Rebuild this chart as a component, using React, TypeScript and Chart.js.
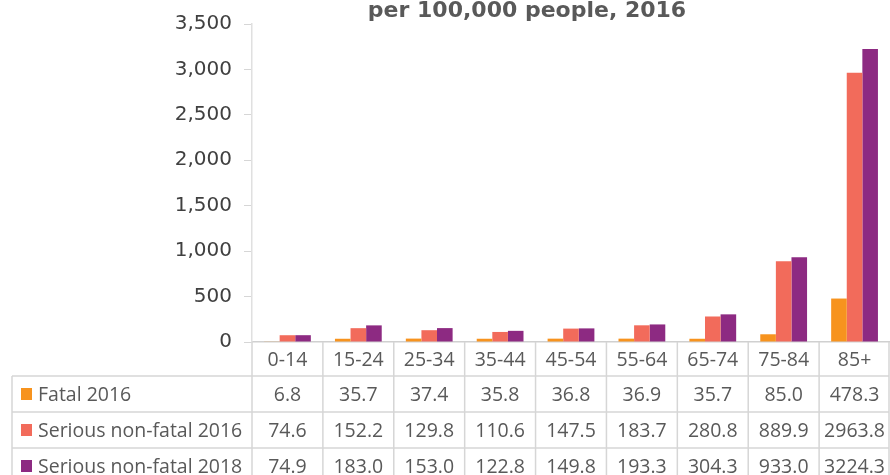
import React, { useEffect, useRef } from "react";
import { Chart, registerables } from "chart.js";

Chart.register(...registerables);

const categories = ["0-14", "15-24", "25-34", "35-44", "45-54", "55-64", "65-74", "75-84", "85+"];
const seriesNames = ["Fatal 2016", "Serious non-fatal 2016", "Serious non-fatal 2018"];
const fatal2016 = [6.8, 35.7, 37.4, 35.8, 36.8, 36.9, 35.7, 85.0, 478.3];
const serious2016 = [74.6, 152.2, 129.8, 110.6, 147.5, 183.7, 280.8, 889.9, 2963.8];
const serious2018 = [74.9, 183.0, 153.0, 122.8, 149.8, 193.3, 304.3, 933.0, 3224.3];
const seriesColors = ["#F7931E", "#F26B5B", "#8D2A82"];
const yTicks = [0, 500, 1000, 1500, 2000, 2500, 3000, 3500];
const titleText = "per 100,000 people, 2016";

const tableFont = "19.5px 'Open Sans'";
const tableColor = "#595959";
const lineColor = "#d6d6d6";

const tablePlugin = {
  id: "dataTable",
  afterDraw(chart: any) {
    const { ctx, chartArea } = chart;
    const xs = chart.scales.x;
    const n = categories.length;
    const step = (chartArea.right - chartArea.left) / n;
    const headerTop = chartArea.bottom;
    const headerH = 34;
    const rowH = 36;
    const tableLeft = 12;
    const tableRight = chart.width - 1;
    const bottom = chart.height + 5;
    ctx.save();
    ctx.strokeStyle = lineColor;
    ctx.lineWidth = 1.5;
    const rowsY = [headerTop + headerH, headerTop + headerH + rowH, headerTop + headerH + 2 * rowH];
    ctx.beginPath();
    rowsY.forEach((y) => {
      ctx.moveTo(tableLeft, y);
      ctx.lineTo(tableRight, y);
    });
    for (let i = 0; i <= n; i++) {
      const x = i === n ? tableRight : chartArea.left + i * step;
      ctx.moveTo(x, headerTop);
      ctx.lineTo(x, bottom);
    }
    ctx.moveTo(tableLeft, headerTop + headerH);
    ctx.lineTo(tableLeft, bottom);
    ctx.stroke();

    ctx.font = tableFont;
    ctx.fillStyle = tableColor;
    ctx.textAlign = "center";
    ctx.textBaseline = "middle";
    categories.forEach((c, i) => {
      const x = xs.getPixelForValue(i);
      ctx.fillText(c, x, headerTop + headerH / 2 + 1);
    });
    const data = [fatal2016, serious2016, serious2018];
    data.forEach((arr, r) => {
      const yc = headerTop + headerH + r * rowH + rowH / 2 + 1;
      ctx.textAlign = "center";
      ctx.fillStyle = tableColor;
      arr.forEach((v, i) => {
        const x = xs.getPixelForValue(i);
        ctx.fillText(v.toFixed(1), x, yc);
      });
      ctx.fillStyle = seriesColors[r];
      ctx.fillRect(21, yc - 7, 11, 12);
      ctx.fillStyle = tableColor;
      ctx.textAlign = "left";
      ctx.fillText(seriesNames[r], 38, yc);
    });

    ctx.font = "bold 22px 'DejaVu Sans'";
    ctx.fillStyle = "#595959";
    ctx.textAlign = "center";
    ctx.textBaseline = "alphabetic";
    ctx.fillText(titleText, 527, 17);
    ctx.restore();
  },
};

export default function App() {
  const ref = useRef<HTMLCanvasElement>(null);
  useEffect(() => {
    document.body.style.margin = "0";
    const chart = new Chart(ref.current as HTMLCanvasElement, {
      type: "bar",
      data: {
        labels: categories,
        datasets: [
          { label: seriesNames[0], data: fatal2016, backgroundColor: seriesColors[0] },
          { label: seriesNames[1], data: serious2016, backgroundColor: seriesColors[1] },
          { label: seriesNames[2], data: serious2018, backgroundColor: seriesColors[2] },
        ],
      },
      options: {
        responsive: false,
        animation: false,
        layout: { padding: { left: 0, right: 0, top: 22, bottom: 475 - 342 } },
        datasets: { bar: { categoryPercentage: 0.66, barPercentage: 1.0, borderWidth: 0 } },
        plugins: { legend: { display: false }, title: { display: false }, tooltip: { enabled: false } },
        scales: {
          x: {
            ticks: { display: false },
            grid: { display: false, drawTicks: false },
            border: { display: true, color: "#d0d0d0", width: 1.5 },
          },
          y: {
            min: 0,
            max: 3500,
            afterFit: (scale: any) => {
              scale.width = 252;
            },
            afterBuildTicks: (scale: any) => {
              scale.ticks = yTicks.map((v) => ({ value: v }));
            },
            ticks: {
              padding: 12,
              color: "#404040",
              font: { family: "'DejaVu Sans'", size: 20 },
              callback: (v: any) => Number(v).toLocaleString("en-US"),
            },
            grid: { display: true, drawOnChartArea: false, drawTicks: true, tickLength: 8, color: "#d6d6d6" },
            border: { display: true, color: "#e0e0e0", width: 1.5 },
          },
        },
      },
      plugins: [tablePlugin],
    });
    return () => chart.destroy();
  }, []);
  return <canvas ref={ref} width={890} height={475} style={{ display: "block" }} />;
}
